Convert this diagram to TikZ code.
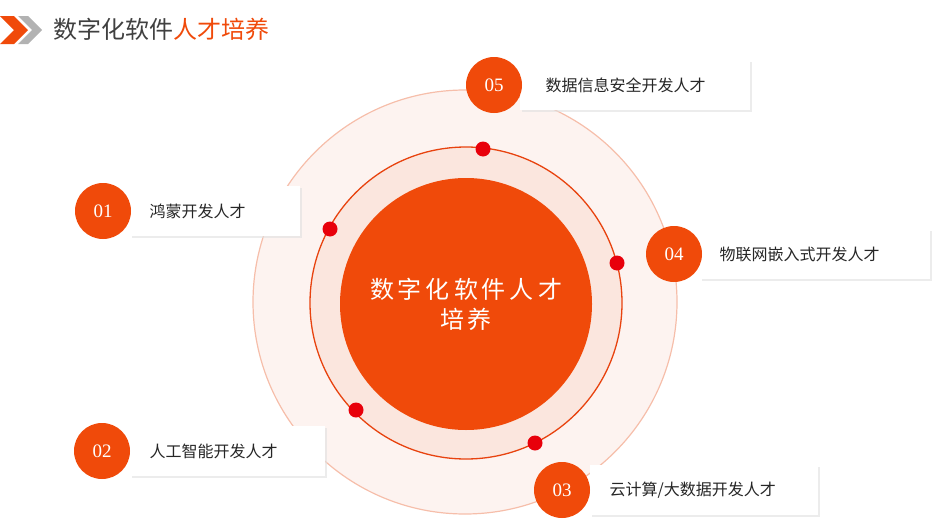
\documentclass[tikz,border=0pt]{standalone}
\usepackage{fontspec}
\newfontfamily\cjk{Noto Sans CJK SC}
\setmainfont{Liberation Serif}
\usetikzlibrary{shadows}
\definecolor{org}{HTML}{F04A0A}
\definecolor{ring}{HTML}{E8430F}
\definecolor{dotc}{HTML}{E8000B}
\tikzset{
 badge/.style={circle,fill=org,minimum size=56pt,inner sep=0pt,text=white,font=\fontsize{19}{19}\selectfont},
 card/.style={fill=white,draw=none,drop shadow={shadow xshift=2pt,shadow yshift=-2pt,fill=black!12,opacity=0.6},anchor=west,minimum height=50pt,inner sep=0pt},
 lbl/.style={anchor=west,font=\cjk\fontsize{16}{16}\selectfont,text=black!85},
 rdot/.style={circle,fill=dotc,minimum size=15pt,inner sep=0pt}
}
\begin{document}
\begin{tikzpicture}[x=1pt,y=-1pt]
\useasboundingbox (0,0) rectangle (950,530);
% header chevrons
\fill[org] (0,16) -- (14,16) -- (28,30) -- (14,44) -- (0,44) -- (14,30) -- cycle;
\fill[gray!60] (18,16) -- (28,16) -- (42,30) -- (28,44) -- (18,44) -- (32,30) -- cycle;
\node[anchor=west,font=\cjk\fontsize{24}{24}\selectfont,inner sep=0pt] (title) at (53,29) {\textcolor{black!75}{数字化软件}\textcolor{org}{人才培养}};
% circles
\node[circle,minimum size=424pt,inner sep=0pt,fill={rgb,255:red,253;green,243;blue,240},draw={rgb,255:red,246;green,190;blue,170},line width=1.2pt] (outer) at (465,302) {};
\node[circle,minimum size=312pt,inner sep=0pt,fill={rgb,255:red,251;green,230;blue,222},draw=ring,line width=1.3pt] (mid) at (466,303) {};
\node[circle,minimum size=252pt,inner sep=0pt,fill=org,text=white,align=center,font=\cjk\fontsize{24}{30}\selectfont] (core) at (466,304) {数\,字\,化\,软\,件\,人\,才\\培\,养};
% dots
\node[rdot] (d5) at (483,149) {};
\node[rdot] (d1) at (330,229) {};
\node[rdot] (d4) at (617,263) {};
\node[rdot] (d2) at (356,410) {};
\node[rdot] (d3) at (535,443) {};
% cards
\node[card,minimum width=170pt] (c1) at (130,211) {};
\node[card,minimum width=195pt] (c2) at (130,451) {};
\node[card,minimum width=228pt] (c3) at (590,490) {};
\node[card,minimum width=230pt] (c4) at (700,254) {};
\node[card,minimum width=230pt] (c5) at (520,85) {};
\node[lbl] (t1) at (146,211) {鸿蒙开发人才};
\node[lbl] (t2) at (146,451) {人工智能开发人才};
\node[lbl] (t3) at (606,490) {云计算/大数据开发人才};
\node[lbl] (t4) at (716,254) {物联网嵌入式开发人才};
\node[lbl] (t5) at (542,85) {数据信息安全开发人才};
\node[badge] (b1) at (103,211) {01};
\node[badge] (b2) at (102,451) {02};
\node[badge] (b3) at (562,490) {03};
\node[badge] (b4) at (674,254) {04};
\node[badge] (b5) at (494,85) {05};
\end{tikzpicture}
\end{document}
